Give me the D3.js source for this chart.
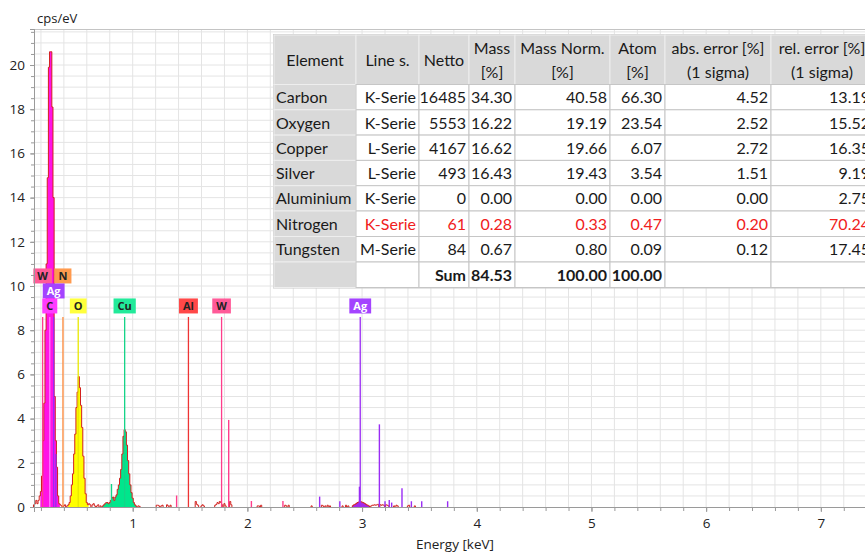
<!DOCTYPE html>
<html>
<head>
<meta charset="utf-8">
<script src="https://cdn.jsdelivr.net/npm/d3@7"></script>
<style>
  body { margin: 0; background: #fff; }
  svg { display: block; }
  .tick text { font-family: "Open Sans", sans-serif; font-size: 13.5px; fill: #222; }
</style>
</head>
<body>
<svg id="chart" width="865" height="554"></svg>
<script>
// spectrum channels, 10 eV wide: [keV, cps/eV] (empty channels left out)
const spectrum = [
  [0.14,0.1],[0.15,0.15],[0.16,0.3],[0.17,0.15],[0.18,0.3],[0.19,0.5],[0.20,0.7],
  [0.21,1.4],[0.22,3.0],[0.23,4.7],[0.24,8.0],[0.25,11.0],[0.26,14.9],[0.27,19.9],[0.28,20.6],[0.29,20.6],
  [0.30,18.1],[0.31,14.0],[0.32,5.0],[0.33,3.0],[0.34,1.8],[0.35,0.5],[0.36,0.15],[0.37,0.1],[0.38,0.05],
  [0.40,0.05],[0.41,0.1],[0.43,0.05],
  [0.44,0.1],[0.45,0.2],[0.46,0.5],[0.47,1.0],[0.48,1.5],[0.49,2.4],[0.50,3.3],[0.51,4.5],[0.52,5.2],
  [0.53,5.9],[0.54,5.4],[0.55,4.6],[0.56,3.6],[0.57,2.3],[0.58,1.3],[0.59,0.6],[0.60,0.2],[0.61,0.1],
  [0.62,0.15],[0.63,0.1],[0.65,0.1],[0.66,0.15],[0.67,0.05],[0.69,0.05],[0.70,0.1],[0.72,0.05],
  [0.74,0.05],[0.75,0.1],[0.76,0.15],[0.77,0.2],[0.78,0.2],[0.79,0.15],[0.80,0.2],[0.81,0.3],[0.82,0.4],
  [0.83,0.45],[0.84,0.3],[0.85,0.45],[0.86,0.55],[0.87,0.8],[0.88,1.0],[0.89,1.3],[0.90,1.7],[0.91,2.4],
  [0.92,3.2],[0.93,3.5],[0.94,3.4],[0.95,2.8],[0.96,2.1],[0.97,1.5],[0.98,1.0],[0.99,0.65],[1.00,0.4],
  [1.01,0.2],[1.02,0.1],[1.03,0.05],
  [1.05,0.05],[1.06,0.03],[1.21,0.08],[1.22,0.08],[1.23,0.05],[1.25,0.05],[1.26,0.08],[1.30,0.1],[1.31,0.05],
  [1.33,0.08],[1.55,0.25],[1.56,0.12],[1.57,0.08],[1.60,0.05],[1.61,0.1],[1.62,0.05],
  [1.72,0.08],[1.73,0.12],[1.74,0.2],[1.75,0.15],[1.76,0.25],[1.77,0.2],[1.78,0.1],[1.80,0.15],[1.81,0.05],
  [1.85,0.25],[1.86,0.1],[2.09,0.05],[2.10,0.05],[2.12,0.08],[2.33,0.08],[2.34,0.05],[2.36,0.08],
  [2.56,0.05],[2.65,0.08],[2.66,0.05],[2.68,0.05],[2.70,0.08],[2.72,0.05],[2.83,0.05],[2.86,0.08],[2.88,0.05],
  [2.92,0.06],[2.93,0.1],[2.94,0.12],[2.95,0.16],[2.96,0.2],[2.97,0.22],[2.98,0.24],[2.99,0.24],[3.00,0.22],
  [3.01,0.2],[3.02,0.17],[3.03,0.14],[3.04,0.1],[3.05,0.08],[3.06,0.05],
  [3.08,0.05],[3.09,0.08],[3.10,0.08],[3.11,0.1],[3.12,0.08],[3.13,0.1],[3.14,0.12],[3.16,0.1],[3.17,0.08],
  [3.18,0.1],[3.19,0.08],[3.21,0.1],[3.22,0.08],[3.23,0.05],[3.28,0.05],[3.30,0.08],[3.31,0.05],
  [3.40,0.05],[3.41,0.08],[3.46,0.05]
];

// coloured peak areas: [element, from keV, to keV]
const peakFills = [["C", 0.195, 0.365], ["O", 0.435, 0.615], ["Cu", 0.735, 1.035], ["Ag", 2.915, 3.065]];

// labelled element lines: [element, keV, label row]
const mainLines = [
  ["W", 0.215, 1], ["N", 0.392, 1], ["Ag", 0.311, 2], ["C", 0.277, 3], ["O", 0.525, 3],
  ["Cu", 0.930, 3], ["Al", 1.486, 3], ["W", 1.775, 3], ["Ag", 2.984, 3]
];
const mainLineHeight = 8.6;

// smaller element lines: [element, keV, cps/eV]
const minorLines = [
  ["Ag",0.33,2.4],["Cu",0.815,1.04],["W",1.383,0.52],["W",1.837,3.94],["W",2.035,0.27],["W",2.31,0.27],
  ["Ag",2.63,0.47],["Ag",2.806,0.26],["Ag",2.977,0.92],["Ag",3.151,3.74],["Ag",3.2,0.26],["Ag",3.237,0.32],
  ["Ag",3.258,0.2],["Ag",3.348,0.85],["Ag",3.43,0.26],["Ag",3.52,0.26],["Ag",3.746,0.26]
];

const yTickLabels = [0, 2, 4, 6, 8, 10, 12, 14, 16, 18, 20];
const xTickLabels = [1, 2, 3, 4, 5, 6, 7];

// quantification table
const headers = [["Element"], ["Line s."], ["Netto"], ["Mass", "[%]"], ["Mass Norm.", "[%]"], ["Atom", "[%]"],
                 ["abs. error [%]", "(1 sigma)"], ["rel. error [%]", "(1 sigma)"]];
const elements = ["Carbon", "Oxygen", "Copper", "Silver", "Aluminium", "Nitrogen", "Tungsten"];
const lineSeries = ["K-Serie", "K-Serie", "L-Serie", "L-Serie", "K-Serie", "K-Serie", "M-Serie"];
const netto = ["16485", "5553", "4167", "493", "0", "61", "84"];
const mass = ["34.30", "16.22", "16.62", "16.43", "0.00", "0.28", "0.67"];
const massNorm = ["40.58", "19.19", "19.66", "19.43", "0.00", "0.33", "0.80"];
const atom = ["66.30", "23.54", "6.07", "3.54", "0.00", "0.47", "0.09"];
const absErr = ["4.52", "2.52", "2.72", "1.51", "0.00", "0.20", "0.12"];
const relErr = ["13.19", "15.52", "16.35", "9.19", "2.75", "70.24", "17.45"];
const sumRow = ["", "", "Sum", "84.53", "100.00", "100.00", "", ""];
const flagged = ["Nitrogen"];

const lineColor = { W: "#ff3d8b", N: "#ff8a3a", Ag: "#9a2cf5", C: "#ff7cff", O: "#e8e800", Cu: "#14d488", Al: "#ee3434" };
const boxColor = { W: "#ff5a98", N: "#ff9a4e", Ag: "#a443ff", C: "#ff3cff", O: "#ffff3c", Cu: "#22ea9a", Al: "#ff4848" };
const fillColor = { C: "#ff12e6", O: "#ffff00", Cu: "#00e68c", Ag: "#a52ae8" };

const svg = d3.select("#chart");
const plotLeft = 34, plotRight = 865, plotTop = 29, plotBottom = 507;

const x = d3.scaleLinear().domain([0.1395, 7.385]).range([plotLeft, plotRight]);
const y = d3.scaleLinear().domain([0, 21.63]).range([plotBottom, plotTop]);

// grid
const grid = svg.append("g");
grid.selectAll("line.v").data(d3.range(0.2, 7.4, 0.2)).join("line")
  .attr("x1", d => x(d)).attr("x2", d => x(d)).attr("y1", plotTop).attr("y2", plotBottom)
  .attr("stroke", "#e4e4e4").attr("stroke-width", 1);
grid.selectAll("line.h").data(d3.range(0.5, 21.6, 0.5)).join("line")
  .attr("x1", plotLeft).attr("x2", plotRight).attr("y1", d => y(d)).attr("y2", d => y(d))
  .attr("stroke", "#e4e4e4").attr("stroke-width", 1);
svg.append("line").attr("x1", plotLeft).attr("x2", plotRight).attr("y1", plotTop + 0.5).attr("y2", plotTop + 0.5)
  .attr("stroke", "#c4c4c4");

// split spectrum into contiguous runs of channels
function runs(pts) {
  const out = [];
  let cur = [];
  pts.forEach(p => {
    if (cur.length && p[0] - cur[cur.length - 1][0] > 0.015) { out.push(cur); cur = []; }
    cur.push(p);
  });
  if (cur.length) out.push(cur);
  return out;
}
function corners(run) {
  const c = [[run[0][0] - 0.005, 0]];
  run.forEach(([e, v]) => { c.push([e - 0.005, v]); c.push([e + 0.005, v]); });
  c.push([run[run.length - 1][0] + 0.005, 0]);
  return c;
}

const area = d3.area().x(d => x(d[0])).y0(y(0)).y1(d => y(d[1]));
const line = d3.line().x(d => x(d[0])).y(d => y(d[1]));

const fills = svg.append("g");
peakFills.forEach(([el, e0, e1]) => {
  const pts = spectrum.filter(d => d[0] > e0 && d[0] < e1);
  runs(pts).forEach(r => {
    fills.append("path").attr("d", area(corners(r))).attr("fill", fillColor[el]);
  });
});

svg.append("g").selectAll("path").data(runs(spectrum)).join("path")
  .attr("d", d => line(corners(d)))
  .attr("fill", "none").attr("stroke", "#d2201e").attr("stroke-width", 1);

// element lines
const marks = svg.append("g");
marks.selectAll("line.minor").data(minorLines).join("line")
  .attr("x1", d => x(d[1])).attr("x2", d => x(d[1]))
  .attr("y1", y(0)).attr("y2", d => y(d[2]))
  .attr("stroke", d => lineColor[d[0]]).attr("stroke-width", 1.4);
marks.selectAll("line.main").data(mainLines).join("line")
  .attr("x1", d => x(d[1])).attr("x2", d => x(d[1]))
  .attr("y1", y(0)).attr("y2", y(mainLineHeight))
  .attr("stroke", d => lineColor[d[0]]).attr("stroke-width", 1.3);

// element labels
const rowTop = { 1: -48.5, 2: -33.5, 3: -18.5 };
const labels = svg.append("g").attr("font-family", "Open Sans, sans-serif").attr("font-size", 11);
mainLines.forEach(([el, e, row]) => {
  const cx = x(e), ty = y(mainLineHeight) + rowTop[row];
  const g = labels.append("g");
  const t = g.append("text").attr("x", cx).attr("y", ty + 7.5).attr("dy", "0.35em")
    .attr("text-anchor", "middle").attr("font-weight", 700)
    .attr("fill", el === "Ag" ? "#fff" : "#222").text(el);
  const w = t.node().getComputedTextLength() + 8;
  g.insert("rect", "text").attr("x", cx - w / 2).attr("y", ty).attr("width", w).attr("height", 15)
    .attr("fill", boxColor[el]);
});

// axes
const yMinor = d3.axisLeft(y).tickValues(d3.range(0, 21.6, 0.5)).tickSize(3).tickFormat("");
const yAxis = d3.axisLeft(y).tickValues(yTickLabels).tickSize(4).tickPadding(5);
const xMinor = d3.axisBottom(x).tickValues(d3.range(0.2, 7.4, 0.2)).tickSize(4).tickFormat("");
const xAxis = d3.axisBottom(x).tickValues(xTickLabels).tickSize(5).tickPadding(6).tickFormat(d3.format("d"));

[svg.append("g").attr("transform", `translate(${plotLeft},0)`).call(yMinor),
 svg.append("g").attr("transform", `translate(${plotLeft},0)`).call(yAxis),
 svg.append("g").attr("transform", `translate(0,${plotBottom})`).call(xMinor),
 svg.append("g").attr("transform", `translate(0,${plotBottom})`).call(xAxis)]
  .forEach(g => {
    g.selectAll(".domain, .tick line").attr("stroke", "#9a9a9a");
  });

svg.append("text").attr("x", 37).attr("y", 23)
  .attr("font-family", "Open Sans, sans-serif").attr("font-size", 13).attr("fill", "#222").text("cps/eV");
svg.append("text").attr("x", 455).attr("y", 549).attr("text-anchor", "middle")
  .attr("font-family", "Open Sans, sans-serif").attr("font-size", 13.5).attr("fill", "#222").text("Energy [keV]");

// table
const colEdges = [274, 356, 419, 469, 515, 610, 665, 771, 873];
const rowEdges = [35, 84.5, 109.8, 135.1, 160.4, 185.7, 211, 236.5, 262, 287.5];
const tableRows = elements.map((el, i) =>
  [el, lineSeries[i], netto[i], mass[i], massNorm[i], atom[i], absErr[i], relErr[i]]);

const tbl = svg.append("g").attr("font-family", "Lato, sans-serif").attr("font-size", 16).attr("fill", "#1a1a1a");
tbl.append("rect").attr("x", colEdges[0]).attr("y", rowEdges[0])
  .attr("width", colEdges[8] - colEdges[0]).attr("height", rowEdges[9] - rowEdges[0])
  .attr("fill", "#fff").attr("stroke", "#c9c9c9").attr("stroke-width", 2);

for (let r = 0; r < 9; r++) {
  for (let c = 0; c < 8; c++) {
    const gray = r === 0 || c === 0;
    tbl.append("rect").attr("x", colEdges[c]).attr("y", rowEdges[r])
      .attr("width", colEdges[c + 1] - colEdges[c]).attr("height", rowEdges[r + 1] - rowEdges[r])
      .attr("fill", gray ? "#d9d9d9" : "#fff")
      .attr("stroke", gray ? "#eeeeee" : "#c6c6c6").attr("stroke-width", 1);
  }
}

headers.forEach((h, c) => {
  const cx = (colEdges[c] + colEdges[c + 1]) / 2;
  const ys = h.length === 1 ? [60.5] : [48, 72];
  h.forEach((s, k) => {
    tbl.append("text").attr("x", cx).attr("y", ys[k]).attr("dy", "0.35em")
      .attr("text-anchor", "middle").text(s);
  });
});

tableRows.forEach((row, i) => {
  const cy = (rowEdges[i + 1] + rowEdges[i + 2]) / 2 + 0.5;
  const red = flagged.includes(row[0]);
  row.forEach((v, c) => {
    const t = tbl.append("text").attr("y", cy).attr("dy", "0.35em").text(v);
    if (c === 0) t.attr("x", colEdges[0] + 2);
    else t.attr("x", colEdges[c + 1] - 3).attr("text-anchor", "end").attr("fill", red ? "#f02020" : "#1a1a1a");
  });
});

const sy = (rowEdges[8] + rowEdges[9]) / 2 + 0.5;
sumRow.forEach((v, c) => {
  if (!v) return;
  tbl.append("text").attr("x", colEdges[c + 1] - 3).attr("y", sy).attr("dy", "0.35em")
    .attr("text-anchor", "end").attr("font-weight", 700).text(v);
});
</script>
</body>
</html>
